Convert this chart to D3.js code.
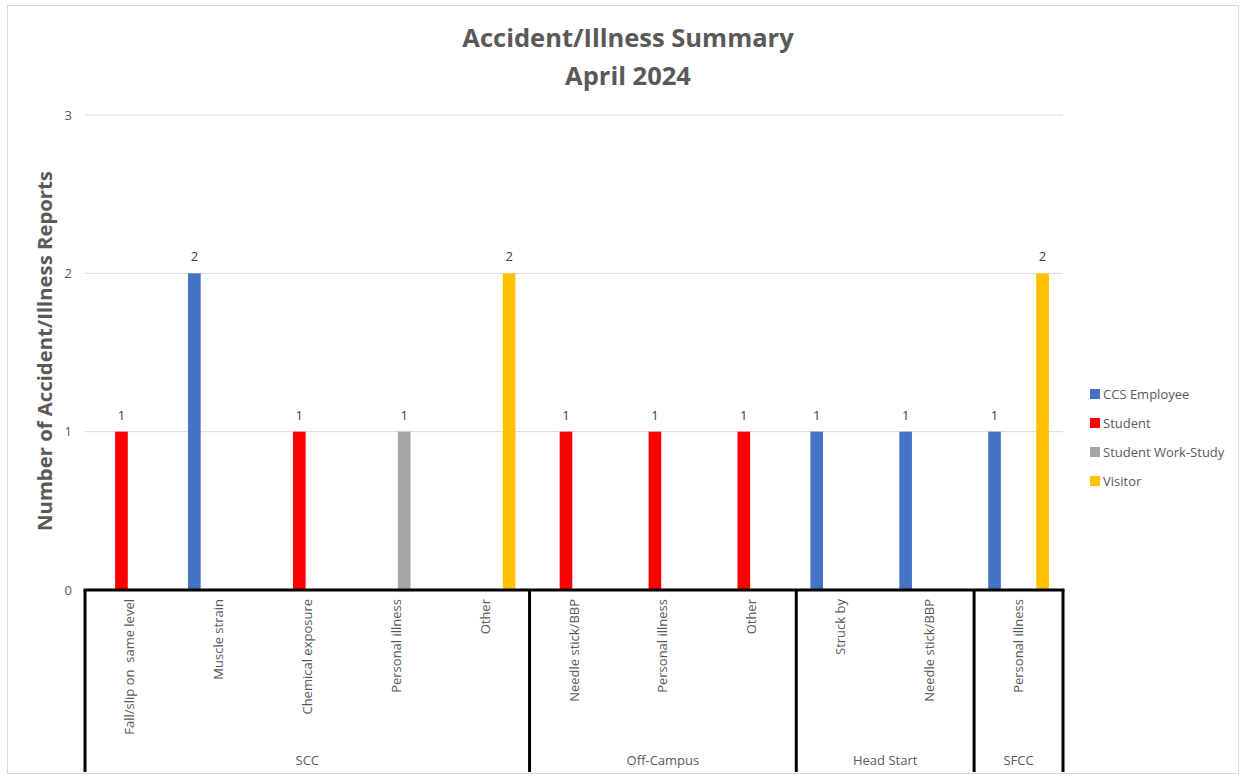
<!DOCTYPE html>
<html>
<head>
<meta charset="utf-8">
<script src="https://cdn.jsdelivr.net/npm/d3@7"></script>
<style>
  body { margin: 0; background: #fff; }
  text { font-family: "Open Sans", "Noto Sans", sans-serif; }
</style>
</head>
<body>
<div id="chart"></div>
<script>
// data
var categories = ["Fall/slip on  same level", "Muscle strain", "Chemical exposure", "Personal illness", "Other",
                  "Needle stick/BBP", "Personal illness", "Other",
                  "Struck by", "Needle stick/BBP",
                  "Personal illness"];
var categoryGroups = ["SCC", "SCC", "SCC", "SCC", "SCC",
                      "Off-Campus", "Off-Campus", "Off-Campus",
                      "Head Start", "Head Start",
                      "SFCC"];
var seriesNames = ["CCS Employee", "Student", "Student Work-Study", "Visitor"];
var ccsEmployee = [0, 2, 0, 0, 0, 0, 0, 0, 1, 1, 1];
var student     = [1, 0, 1, 0, 0, 1, 1, 1, 0, 0, 0];
var workStudy   = [0, 0, 0, 1, 0, 0, 0, 0, 0, 0, 0];
var visitor     = [0, 0, 0, 0, 2, 0, 0, 0, 0, 0, 2];
var yTicks = [0, 1, 2, 3];

var seriesValues = [ccsEmployee, student, workStudy, visitor];
var colors = ["#4472C4", "#FF0000", "#A5A5A5", "#FFC000"];

var width = 1241,
    height = 776;

var margin = {left: 85, right: 178, top: 115, bottom: 186};

var svg = d3.select("#chart").append("svg")
    .attr("width", width)
    .attr("height", height);

// chart frame
svg.append("rect")
    .attr("x", 7.5).attr("y", 5.5)
    .attr("width", 1231).attr("height", 768)
    .attr("fill", "none")
    .attr("stroke", "#d9d9d9");

var x0 = d3.scaleBand()
    .domain(d3.range(categories.length))
    .range([margin.left, width - margin.right]);

var x1 = d3.scaleBand()
    .domain(d3.range(seriesNames.length))
    .range([x0.bandwidth() * 0.14, x0.bandwidth() * 0.86])
    .paddingInner(0.21)
    .paddingOuter(0.105);

var y = d3.scaleLinear()
    .domain([0, 3])
    .range([height - margin.bottom, margin.top]);

// gridlines
svg.append("g")
    .selectAll("line")
    .data(yTicks.filter(function (d) { return d > 0; }))
    .enter().append("line")
    .attr("x1", margin.left).attr("x2", width - margin.right)
    .attr("y1", function (d) { return y(d); })
    .attr("y2", function (d) { return y(d); })
    .attr("stroke", "#d9d9d9")
    .attr("stroke-width", 1);

// y tick labels
svg.append("g")
    .selectAll("text")
    .data(yTicks)
    .enter().append("text")
    .attr("x", 72)
    .attr("y", function (d) { return y(d); })
    .attr("dy", "0.35em")
    .attr("text-anchor", "end")
    .attr("font-size", 13)
    .attr("fill", "#595959")
    .text(function (d) { return d; });

// bars
var bars = [];
seriesValues.forEach(function (vals, s) {
    vals.forEach(function (v, i) {
        if (v > 0) bars.push({s: s, i: i, v: v});
    });
});

svg.append("g")
    .selectAll("rect")
    .data(bars)
    .enter().append("rect")
    .attr("x", function (d) { return x0(d.i) + x1(d.s); })
    .attr("y", function (d) { return y(d.v); })
    .attr("width", x1.bandwidth())
    .attr("height", function (d) { return y(0) - y(d.v); })
    .attr("fill", function (d) { return colors[d.s]; });

svg.append("g")
    .selectAll("text")
    .data(bars)
    .enter().append("text")
    .attr("x", function (d) { return x0(d.i) + x1(d.s) + x1.bandwidth() / 2; })
    .attr("y", function (d) { return y(d.v) - 12; })
    .attr("text-anchor", "middle")
    .attr("font-size", 13)
    .attr("fill", "#404040")
    .text(function (d) { return d.v; });

// category labels (rotated)
svg.append("g")
    .selectAll("text")
    .data(categories)
    .enter().append("text")
    .attr("transform", function (d, i) {
        return "translate(" + (x0(i) + x0.bandwidth() / 2) + "," + (y(0) + 9) + ") rotate(-90)";
    })
    .attr("dy", "0.35em")
    .attr("text-anchor", "end")
    .attr("font-size", 13)
    .attr("fill", "#595959")
    .style("white-space", "pre")
    .text(function (d) { return d; });

// group spans
var groups = [];
categoryGroups.forEach(function (g, i) {
    var last = groups[groups.length - 1];
    if (last && last.name == g) last.end = i;
    else groups.push({name: g, start: i, end: i});
});

var bottom = 772;
var sepX = [x0(0)].concat(groups.map(function (g) { return x0(g.end) + x0.bandwidth(); }));

svg.append("g")
    .selectAll("line")
    .data(sepX)
    .enter().append("line")
    .attr("x1", function (d) { return d; })
    .attr("x2", function (d) { return d; })
    .attr("y1", y(0)).attr("y2", bottom)
    .attr("stroke", "#000")
    .attr("stroke-width", 3);

svg.append("line")
    .attr("x1", margin.left - 1.5).attr("x2", width - margin.right + 1.5)
    .attr("y1", y(0)).attr("y2", y(0))
    .attr("stroke", "#000")
    .attr("stroke-width", 3);

svg.append("g")
    .selectAll("text")
    .data(groups)
    .enter().append("text")
    .attr("x", function (d) { return (x0(d.start) + x0(d.end) + x0.bandwidth()) / 2; })
    .attr("y", 760)
    .attr("dy", "0.35em")
    .attr("text-anchor", "middle")
    .attr("font-size", 13)
    .attr("fill", "#595959")
    .text(function (d) { return d.name; });

// title
svg.append("text")
    .attr("x", 628).attr("y", 47)
    .attr("text-anchor", "middle")
    .attr("font-size", 25.5)
    .attr("font-weight", "bold")
    .attr("fill", "#595959")
    .text("Accident/Illness Summary");

svg.append("text")
    .attr("x", 628).attr("y", 85)
    .attr("text-anchor", "middle")
    .attr("font-size", 25.5)
    .attr("font-weight", "bold")
    .attr("fill", "#595959")
    .text("April 2024");

// y axis title
svg.append("text")
    .attr("transform", "translate(52,351) rotate(-90)")
    .attr("text-anchor", "middle")
    .attr("font-size", 20.3)
    .attr("font-weight", "bold")
    .attr("fill", "#595959")
    .text("Number of Accident/Illness Reports");

// legend
var legend = svg.append("g")
    .selectAll("g")
    .data(seriesNames)
    .enter().append("g")
    .attr("transform", function (d, i) { return "translate(1090," + (394 + i * 29) + ")"; });

legend.append("rect")
    .attr("x", 0).attr("y", -5)
    .attr("width", 10).attr("height", 10)
    .attr("fill", function (d, i) { return colors[i]; });

legend.append("text")
    .attr("x", 13)
    .attr("dy", "0.35em")
    .attr("font-size", 13)
    .attr("fill", "#595959")
    .text(function (d) { return d; });
</script>
</body>
</html>
